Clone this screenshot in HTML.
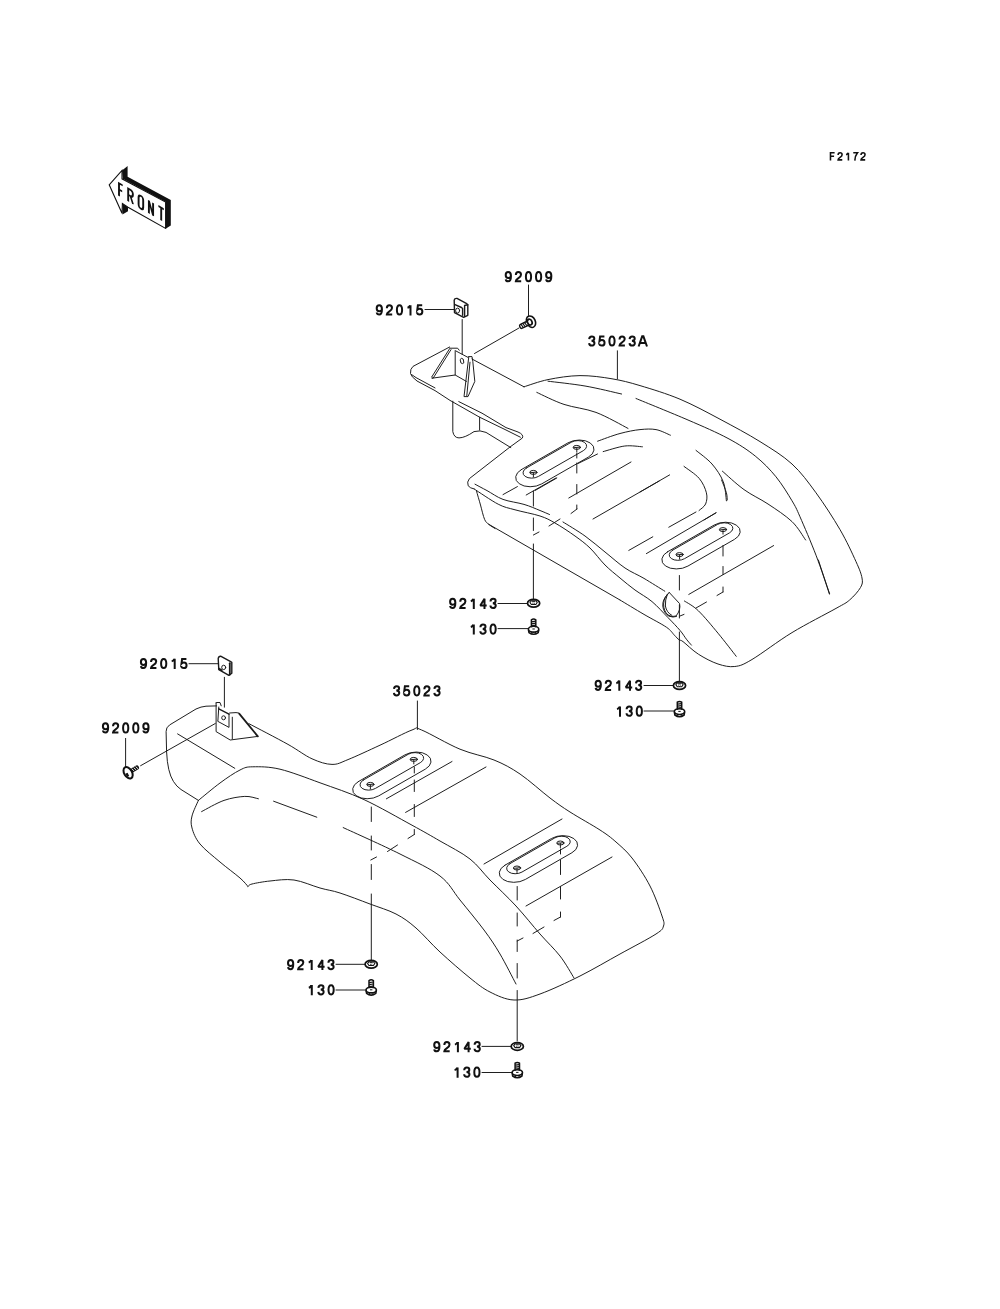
<!DOCTYPE html>
<html><head><meta charset="utf-8">
<style>
html,body{margin:0;padding:0;background:#fff;width:1000px;height:1309px;overflow:hidden}
svg{display:block}
.t{font-family:"Liberation Sans",sans-serif;font-size:14.4px;letter-spacing:2.3px;fill:#111;stroke:#111;stroke-width:0.5}
.l path,.l rect,.l ellipse,path.l{fill:none;stroke:#1a1a1a;stroke-width:0.98;stroke-linecap:round;stroke-linejoin:round}
.l path.d{stroke-dasharray:7 5}
.l path.th{stroke-width:1.8}
.l path.c{stroke-width:1.4}
</style></head><body>
<svg width="1000" height="1309" viewBox="0 0 1000 1309">
<defs>
<g id="nut" fill="none" stroke="#111">
<ellipse cx="0" cy="0" rx="6.1" ry="3.9" stroke-width="1.7"/>
<path d="M-3.6,-0.8 L-2.2,-2.6 L2.2,-2.6 L3.6,-0.8 L2.2,1.2 L-2.2,1.2Z" stroke-width="1.1"/>
<path d="M-1.5,-1.6 L1.5,-1.6 M-1,0.2 L0,0.9 L1,0.2" stroke-width="1"/>
</g>
<g id="bolt" fill="none" stroke="#111">
<path d="M-2.2,-2.5 L-2.2,-10 Q0,-11.6 2.2,-10 L2.2,-2.5" stroke-width="1.5"/>
<path d="M-2,-8 L2,-8.6 M-2,-6 L2,-6.6 M-2,-4 L2,-4.6" stroke-width="1.2"/>
<ellipse cx="0" cy="-0.6" rx="5.2" ry="2.9" stroke-width="1.6"/>
<path d="M-5.1,0 L-4.6,2.8 Q0,6.2 4.6,2.8 L5.1,0" stroke-width="1.6"/>
<path d="M-2,1.6 L-1.6,4.2 M2,1.6 L1.6,4.2 M-1.2,-0.8 L1.2,-0.8" stroke-width="1"/>
</g>
<g id="screw" fill="none" stroke="#111">
<ellipse cx="0" cy="0" rx="3.9" ry="6.2" stroke-width="2" fill="#fff"/>
<path d="M-1.6,-0.5 L-1.8,3.2" stroke-width="2.4"/>
<rect x="3.2" y="-2.2" width="9" height="4.4" rx="1.6" fill="#111" stroke="none"/>
<path d="M5.2,-1.6 L6.2,1.6 M7.4,-1.6 L8.4,1.6 M9.6,-1.6 L10.6,1.6" stroke="#fff" stroke-width="0.8"/>
</g>
<g id="screw2" fill="none" stroke="#111">
<ellipse cx="0" cy="0" rx="4.3" ry="6" stroke-width="1.6" fill="#fff"/>
<ellipse cx="1.3" cy="0.2" rx="2.2" ry="3" stroke-width="1.7"/>
<rect x="3.6" y="-2.1" width="8.6" height="4.2" rx="1.5" stroke-width="1.4" fill="#fff"/>
<path d="M5.4,-1.9 L6.2,1.9 M7.4,-1.9 L8.2,1.9 M9.4,-1.9 L10.2,1.9" stroke-width="1.1"/>
</g>
<g id="glyphs" style="display:none"></g>
<g id="g0" fill="none" stroke="#111" stroke-width="2.0"><ellipse cx="3.5" cy="-5.5" rx="2.6" ry="4.6"/></g>
<g id="g1" fill="none" stroke="#111" stroke-width="2.0"><path d="M4.4,0 L4.4,-10.2 M1.4,-7.6 Q3.6,-8.2 4.0,-10.1"/></g>
<g id="g2" fill="none" stroke="#111" stroke-width="2.0"><path d="M0.95,-7.1 C0.95,-9.0 2.0,-10.1 3.5,-10.1 C5.1,-10.1 6.1,-9.1 6.1,-7.5 C6.1,-5.9 5.0,-5.0 3.5,-4.1 C1.9,-3.1 0.9,-2.2 0.9,-0.9 L6.3,-0.9"/></g>
<g id="g3" fill="none" stroke="#111" stroke-width="2.0"><path d="M0.9,-7.4 C1.0,-9.2 2.0,-10.1 3.5,-10.1 C5.0,-10.1 6.0,-9.2 6.0,-7.8 C6.0,-6.5 5.0,-5.7 3.2,-5.7 C5.1,-5.7 6.15,-4.7 6.15,-3.2 C6.15,-1.8 5.0,-0.9 3.5,-0.9 C1.9,-0.9 0.9,-1.8 0.85,-3.4"/></g>
<g id="g4" fill="none" stroke="#111" stroke-width="2.0"><path d="M5.0,0 L5.0,-10.1 L0.8,-3.4 L7.2,-3.4" stroke-linejoin="bevel"/></g>
<g id="g5" fill="none" stroke="#111" stroke-width="2.0"><path d="M6.0,-10.1 L1.7,-10.1 L1.1,-5.5 C1.7,-6.2 2.6,-6.6 3.6,-6.6 C5.2,-6.6 6.15,-5.4 6.15,-3.8 C6.15,-2.0 5.0,-0.9 3.4,-0.9 C1.9,-0.9 0.95,-1.7 0.85,-3.0"/></g>
<g id="gF" fill="none" stroke="#111" stroke-width="2.0"><path d="M1.0,0 L1.0,-10.1 L6.3,-10.1 M1.0,-5.5 L5.6,-5.5"/></g>
<g id="g7" fill="none" stroke="#111" stroke-width="2.0"><path d="M0.8,-10.1 L6.2,-10.1 C4.2,-7.6 3.0,-4.4 2.8,0"/></g>
<g id="g9" fill="none" stroke="#111" stroke-width="2.0"><path d="M6.1,-5.9 C5.7,-4.7 4.7,-4.1 3.5,-4.1 C1.9,-4.1 0.9,-5.2 0.9,-7.1 C0.9,-9.0 2.0,-10.1 3.5,-10.1 C5.2,-10.1 6.15,-8.8 6.15,-6.2 C6.15,-3.0 5.1,-0.9 3.4,-0.9 C2.1,-0.9 1.1,-1.6 0.95,-2.9"/></g>
<g id="gA" fill="none" stroke="#111" stroke-width="2.0"><path d="M-0.2,0 L3.4,-10.2 L4.6,-10.2 L8.2,0 M1.5,-3.6 L6.5,-3.6" stroke-linejoin="miter"/></g></defs>

<g class="l">
<path d="M449.6,347 L413,366.4 Q410,369 410.5,373.5 Q411,376.5 417,381 L435,390.6 L450,400.4 L479.6,417.2 L506,430 L520.4,437.2"/>
<path d="M458.8,401.6 L482,413.2 L506,427.6 L518,432 Q524,434.5 522.4,438 L510,447 L469.4,478.6 Q466.6,482 468.2,485.8 Q470,488.2 474.2,489"/>
<path d="M411.5,374.5 L416,377.6 L435,387.9"/>
<path d="M472,359 L524,386.8"/>
<path d="M524,386.8 C528,385.6 538.7,381.5 548,379.6 C557.3,377.7 569.3,375.7 580,375.6 C590.7,375.5 602,377.1 612,378.8 C622,380.5 628.7,382.2 640,385.6 C651.3,389 666.7,393.6 680,399.2 C693.3,404.8 706.7,412.1 720,419.2 C733.3,426.3 748,434.1 760,441.6 C772,449.1 782.7,455.5 792,464 C801.3,472.5 808,481.9 816,492.8 C824,503.7 833.3,518.1 840,529.6 C846.7,541.1 852.3,553.5 856,561.6 C859.7,569.7 861.2,573.7 862,578 C862.8,582.3 862.6,583.8 860.5,587.5 C858.4,591.2 853.7,596.5 849.6,600 C845.5,603.5 845.6,603 836,608.4 C826.4,613.8 806,624.1 792,632.6 C778,641.1 761.5,653.9 752,659.5 C742.5,665.1 740.5,665.8 734.8,666.5 C729.1,667.2 724.1,666 718,664 C711.9,662 704.2,657.9 698.4,654.2 C692.6,650.5 686.2,644 683,641.6 C679.8,639.2 680.6,641.1 679.2,640 C677.8,638.9 676.5,637.3 674.4,635.2 C672.3,633.1 671.5,630.7 666.4,627.2 C661.3,623.7 651.7,618.9 644,614.4 C636.3,609.9 624,602.4 620,600"/>
<path d="M488.6,524.2 L620,600"/>
<path d="M476.6,491.4 C477.2,493.7 479.2,500.3 480.5,505 C481.8,509.7 483.2,516.2 484.6,519.4 C486,522.6 486.9,522.7 488.6,524.2 C490.3,525.7 493.9,527.8 495,528.5"/>
<path d="M474.2,489 C478.2,491.5 491.4,500.7 498.2,504.2 C505,507.7 508,507.8 515,509.8 C522,511.8 533.3,513.8 540,516 C546.7,518.2 549.2,519.7 555,523 C560.8,526.3 569.2,531.8 575,536 C580.8,540.2 585,543.2 590,548 C595,552.8 600,560 605,565 C610,570 615,573.8 620,578 C625,582.2 629.7,586.1 635,590 C640.3,593.9 646.5,597 652,601.6 C657.5,606.2 663.3,612.8 668,617.6 C672.7,622.4 676.9,626.8 680,630.4 C683.1,634 684.5,636.8 686.4,639.2 C688.3,641.7 690.6,644.1 691.4,645.1"/>
<path d="M475,484.2 C477,485.3 482.3,488.1 487,490.6 C491.7,493.1 496.8,497.1 503,499.4 C509.2,501.7 517.8,502.5 524,504.4 C530.2,506.2 535.8,508.8 540,510.5 C544.2,512.2 547.9,513.8 549.5,514.5"/>
<path d="M563,522 C566.7,524.3 578,531 585,536 C592,541 598.3,546.7 605,552 C611.7,557.3 618.5,563.6 625,568 C631.5,572.4 637.4,574.5 644,578.4 C650.6,582.3 661.3,589.1 664.8,591.2"/>
<path d="M452.8,401.2 L452.8,431.6 Q454,437.8 459,437.9 Q465,437.8 474,431.6 Q480,429.8 486,432.4 L510.8,447.6"/>
<path d="M479.6,417.2 L479.6,430"/>
<path d="M449.4,349 L431.6,377.2 L433,378.4 L451,349.6"/>
<path d="M432,378.2 L455.2,375 L466.4,381.4"/>
<path d="M449.6,348.2 L457.6,348.2 L459.2,350.2"/>
<path d="M456,351 L468,357.4"/>
<path d="M455.2,350.6 L455.2,375"/>
<path d="M462,361 m-1.6,0 a1.6,2.2 -20 1 0 3.2,0 a1.6,2.2 -20 1 0 -3.2,0"/>
<path d="M468.8,356.6 L464,396.6 L468,396.6 L474.8,381.4 L472.8,361.4 L472,356.6 L468.8,356.6"/>
<path d="M470,362.2 L466.8,395.8"/>
<path d="M548,381.2 C554.2,382 572.7,383.9 585,386 C597.3,388.1 615.5,392.7 621.6,394"/>
<path d="M636,398.5 C644.7,402.1 672.7,413.4 688,420 C703.3,426.6 716.8,432.4 728,438.4 C739.2,444.4 747.2,449.6 755.2,456 C763.2,462.4 769.9,469.3 776,476.8 C782.1,484.3 788,494.1 792,500.8 C796,507.5 796,507.7 800,516.8 C804,525.9 811.1,542.4 816,555.2 C820.9,568 827.3,587.2 829.6,593.6"/>
<path d="M536.8,392.4 C541.3,394.4 554.1,401.1 564,404.4 C573.9,407.7 585.3,408.4 596,412.4 C606.7,416.4 622.7,425.7 628,428.4"/>
<path d="M597.6,441.2 C601.3,439.9 612.9,435.4 620,433.5 C627.1,431.6 634,430.2 640,429.6 C646,429 650.9,428.7 656,429.6 C661.1,430.5 668,434.3 670.4,435.2"/>
<path d="M603.2,451.6 C606.8,450.7 618.3,446.8 624.8,446 C631.3,445.2 639.5,446.7 642.4,446.8"/>
<path d="M696,450.4 C698.7,452.7 707.5,458.8 712,464 C716.5,469.2 720.8,475.5 723.2,481.6 C725.6,487.7 725.9,497.6 726.4,500.8"/>
<path d="M684,466.4 C686.5,468.4 695.5,474 699.2,478.4 C702.9,482.8 705.3,488.5 706.4,492.8 C707.5,497.1 706.8,501.1 705.6,504 C704.4,506.9 700.1,509.4 699,510.5"/>
<path d="M696,512 L668.8,527.2"/>
<path d="M722.4,471.2 C726,474.3 736.4,484.1 744,489.6 C751.6,495.1 760,498.7 768,504 C776,509.3 785.7,515.6 792,521.6 C798.3,527.6 803.3,536.9 805.6,540"/>
<path d="M721.6,480 C722.4,482.1 725.5,489.5 726.4,492.8 C727.3,496.1 727.1,498.8 727.2,500"/>
<path d="M593,519 L659.2,481"/>
<path d="M640,492 L669.6,474.9"/>
<path d="M704,520 L716,512.8"/>
<path d="M628.8,550.4 L652.8,536.8"/>
<path d="M646.4,553.6 L716,512.8"/>
<path d="M688.8,594.4 L773.6,545.6"/>
<path d="M503,494.6 L517.4,486.6"/>
<path d="M526.2,495 L556,478"/>
<path d="M568.8,498 L631,462"/>
<path d="M578,463.5 L597.5,454"/>
<path d="M818.4,560 L829.4,594.1"/>
<path d="M684.4,601 C686.7,602.6 692.8,605.4 698.4,610.8 C704,616.2 711.7,625.6 718,633.2 C724.3,640.8 733.2,652.4 736.2,656.3"/>
<path d="M530.2,472.7 L536.6,472.1"/>
<path d="M533.4,472.9 L533.4,476.9"/>
<path d="M573.6,447.7 L580,447.1"/>
<path d="M576.8,447.9 L576.8,451.9"/>
<path d="M535.2,490.4 L556.8,478"/>
<path d="M676.4,554.9 L682.8,554.3"/>
<path d="M679.6,555.1 L679.6,559.1"/>
<path d="M719.8,529.9 L726.2,529.3"/>
<path d="M723,530.1 L723,534.1"/>
<path d="M533.4,491 L533.4,506"/>
<path d="M533.4,518 L533.4,530.5"/>
<path d="M533.4,544 L533.4,599"/>
<path d="M533.4,535 L539,532"/>
<path d="M576.8,453 L576.8,458"/>
<path d="M576.8,463 L576.8,473"/>
<path d="M576.8,484.5 L576.8,494"/>
<path d="M576.8,505 L576.8,509"/>
<path d="M577,509 L571,513.5"/>
<path d="M560,519 L549,526"/>
<path d="M679.4,575.5 L679.4,590"/>
<path d="M679.4,605 L679.4,618"/>
<path d="M679.4,632 L679.4,681"/>
<path d="M723,545.5 L723,556"/>
<path d="M723,566.5 L723,574.5"/>
<path d="M723,587 L723,592"/>
<path d="M723,592 L717,595.5"/>
<path d="M706.5,602 L696,608"/>
<path d="M669.2,592.4 L679.6,603.6 Q681,610 676,616 Q672,617.5 668,615 Q663.5,611 663.6,604 Q664,597 669.2,592.4"/>
<path d="M668.2,593.8 Q662.3,599 662.8,606 Q663.5,613 669,616.2 Q673,617.8 676.5,616.5"/>
<path d="M667.3,594.5 Q665,600 665.4,606 Q666.5,612.5 672,615.5"/>
<path d="M680,616 L684,614.4"/>
<path class="c" d="M454.2,300.2 Q454.5,298.2 457,298.4 L466.7,303.6 L467.8,304.8 L467.8,315.3 L463.6,317.4 L454.5,312.7 Z"/>
<path class="c" d="M464.6,305.5 L467.8,304.8 M464.6,305.5 L464.6,316.6"/>
<path class="c" d="M455,304.6 L461.5,307.5 L462.6,308.5 L462.6,315.3"/>
<path d="M425,309.5 L454,309.5"/>
<path d="M462.2,319.5 L462.2,354.2"/>
<path d="M528.5,285 L528.5,315.5"/>
<path d="M519,328 L474.5,353.5"/>
<path d="M617.4,350.8 L617.4,378.8"/>
<path d="M498,603.5 L527,603.5"/>
<path d="M498,628.6 L528,628.6"/>
<path d="M644,685.5 L673,685.5"/>
<path d="M644,711 L674,711"/>
<path d="M216.6,705.9 L206,706.2 Q201,706.6 196,709 L169.5,725 Q166,727.5 166.1,731.5 L166.6,752 Q167.5,772 173.4,781.4 Q176.5,786.5 181,789.5 L198.4,800.4"/>
<path d="M198.4,800.4 C202,797.5 213.1,788.1 220,783 C226.9,777.9 234.5,772.7 240,770 C245.5,767.3 246.1,766.9 252.8,766.8 C259.5,766.7 268.8,766.5 280,769.2 C291.2,771.9 306,777.7 320,782.8 C334,787.9 348.7,792.5 364,799.6 C379.3,806.7 399.3,818.3 412,825.2 C424.7,832.1 430.3,835.4 440,841 C449.7,846.6 461.7,852.5 470,859 C478.3,865.5 482.3,872.2 490,880 C497.7,887.8 507.7,897 516,906 C524.3,915 532.7,925.7 540,934 C547.3,942.3 554.3,948.7 560,956 C565.7,963.3 571.7,974.3 574,978"/>
<path d="M248.8,723.6 C255.3,727.1 277.5,738.5 288,744.4 C298.5,750.3 304.7,755.5 312,758.8 C319.3,762.1 326,764.3 332,764.4 C338,764.5 340,762.8 348,759.6 C356,756.4 369.3,750.1 380,745.2 C390.7,740.3 405.1,732.5 412,730 C418.9,727.5 413.6,726.8 421.6,730 C429.6,733.2 447.9,744.2 460,749.2 C472.1,754.2 484,755.9 494,760 C504,764.1 510.7,767.7 520,774 C529.3,780.3 541.7,791.7 550,798 C558.3,804.3 561.7,806.7 570,812 C578.3,817.3 592.3,825 600,830 C607.7,835 610.7,837.3 616,842 C621.3,846.7 626.3,850.7 632,858 C637.7,865.3 645,876.3 650,886 C655,895.7 659.8,909.3 662,916 C664.2,922.7 664.5,923 663.5,926 C662.5,929 663.2,929.3 656,934 C648.8,938.7 632.7,947 620,954 C607.3,961 593.3,969.3 580,976 C566.7,982.7 551,990 540,994 C529,998 522.3,1000.3 514,1000 C505.7,999.7 497.3,995.7 490,992 C482.7,988.3 478.3,984.7 470,978 C461.7,971.3 449,960.3 440,952 C431,943.7 423.3,934.3 416,928 C408.7,921.7 403.7,918 396,914 C388.3,910 379.3,907.5 370,904 C360.7,900.5 348.3,895.7 340,893 C331.7,890.3 327.7,890.2 320,888 C312.3,885.8 302.3,881.2 294,880 C285.7,878.8 277,880.3 270,881 C263,881.7 255.7,883.1 252,884 C248.3,884.9 248.7,886.1 248,886.5"/>
<path d="M248,886.5 C246.7,885.1 244.7,882.1 240,878 C235.3,873.9 226.7,867.7 220,862 C213.3,856.3 204.7,849.7 200,844 C195.3,838.3 193.3,832.7 192,828 C190.7,823.3 190.9,820.6 192,816 C193.1,811.4 197.3,803 198.4,800.4"/>
<path d="M201.6,811.6 C205.3,809.7 216.8,802.9 224,800.4 C231.2,797.9 239.1,796.7 244.8,796.4 C250.5,796.1 256.1,798.4 258.4,798.8"/>
<path d="M273.6,801.2 L316.8,817.2"/>
<path d="M177.6,733.9 L234.8,768.3"/>
<path d="M343.2,827.6 C352.7,832 383.9,845.9 400,854 C416.1,862.1 430,868.3 440,876 C450,883.7 452.7,891 460,900 C467.3,909 477.3,921 484,930 C490.7,939 494.7,945 500,954 C505.3,963 513.3,979 516,984"/>
<path d="M386.4,798.8 L452,761.5"/>
<path d="M405.6,812.4 L486,767"/>
<path d="M484,864 L562,819"/>
<path d="M526,906 L612,857"/>
<path d="M367.2,784.7 L373.6,784.1"/>
<path d="M370.4,784.9 L370.4,788.9"/>
<path d="M410.6,759.7 L417,759.1"/>
<path d="M413.8,759.9 L413.8,763.9"/>
<path d="M513.8,868.3 L520.2,867.7"/>
<path d="M517,868.5 L517,872.5"/>
<path d="M557.2,843.3 L563.6,842.7"/>
<path d="M560.4,843.5 L560.4,847.5"/>
<path d="M371.3,807 L371.3,821.5"/>
<path d="M371.3,836 L371.3,850"/>
<path d="M371.3,864.5 L371.3,879.5"/>
<path d="M371.3,894 L371.3,960"/>
<path d="M370.8,860 L376.5,857"/>
<path d="M414.3,767 L414.3,773"/>
<path d="M414.3,780 L414.3,791.5"/>
<path d="M414.3,804.5 L414.3,816.5"/>
<path d="M414.3,829.5 L414.3,834.5"/>
<path d="M414.3,834.5 L408,838.5"/>
<path d="M397.5,845 L387.5,851.5"/>
<path d="M517.2,886.5 L517.2,900"/>
<path d="M517.2,913 L517.2,926"/>
<path d="M517.2,940 L517.2,951.5"/>
<path d="M517.2,963.5 L517.2,978"/>
<path d="M517.2,990.5 L517.2,1041"/>
<path d="M517.2,941 L523,938"/>
<path d="M560.5,849 L560.5,854"/>
<path d="M560.5,860 L560.5,874.5"/>
<path d="M560.5,886.5 L560.5,899"/>
<path d="M560.5,912 L560.5,917"/>
<path d="M560.5,917 L554,920.5"/>
<path d="M544,927 L533,933.5"/>
<path d="M216.1,702.8 L216.1,731.6 L230.2,740 L257.8,736.4"/>
<path d="M216.1,702.8 L217,702.5 L220,702.5 L221.2,705.8"/>
<path d="M218.8,707 L217.9,720.8"/>
<path class="c" d="M218.8,708.8 L229,714.2"/>
<path d="M229,714.2 L229,727.4 L217.9,721.4"/>
<path d="M229.6,713 L236,712.6 L238.6,713"/>
<path class="th" d="M239.2,713.6 L257.8,736.4"/>
<path d="M232.3,717.2 L232.3,738.8"/>
<path class="c" d="M218.2,658.5 Q218.5,656.3 220.6,656.2 L230.2,661.4 L231.8,662.4 L231.8,673.3 L228.9,675.4 L218.8,669.7 Z"/>
<path class="th" d="M229.8,663.2 L229.8,674.6"/>
<path class="th" d="M218.8,668.6 L221.8,670.2"/>
<path d="M189,663.7 L218.6,663.7"/>
<path d="M224.4,677.3 L224.4,707.2"/>
<path d="M125.6,738.4 L125.6,767.7"/>
<path d="M140.6,765.7 L215.3,723.5"/>
<path d="M417.4,701 L417.4,729.5"/>
<path d="M336,964.3 L365,964.3"/>
<path d="M336,990 L366,990"/>
<path d="M482,1046.4 L511,1046.4"/>
<path d="M482,1072.5 L512,1072.5"/>
<g transform="translate(533.4,472.4) rotate(0) matrix(12.2,-7,10.23,7.11,21.4,-9.01)"><rect vector-effect="non-scaling-stroke" x="-2.91" y="-1" width="5.82" height="2" rx="1" ry="1"/><rect vector-effect="non-scaling-stroke" x="-2.17" y="-0.9" width="4.86" height="1.18" rx="0.59" ry="0.59"/></g>
<ellipse cx="533.4" cy="472.4" rx="3.6" ry="2"/>
<ellipse cx="576.8" cy="447.4" rx="3.6" ry="2"/>
<g transform="translate(679.6,554.6) rotate(0) matrix(12.2,-7,10.23,7.11,21.4,-9.01)"><rect vector-effect="non-scaling-stroke" x="-2.91" y="-1" width="5.82" height="2" rx="1" ry="1"/><rect vector-effect="non-scaling-stroke" x="-2.17" y="-0.9" width="4.86" height="1.18" rx="0.59" ry="0.59"/></g>
<ellipse cx="679.6" cy="554.6" rx="3.6" ry="2"/>
<ellipse cx="723" cy="529.6" rx="3.6" ry="2"/>
<ellipse cx="457.6" cy="310.6" rx="2" ry="2.5" stroke-width="1.3"/>
<use href="#screw2" transform="translate(531,321.7) rotate(154.5)"/>
<g transform="translate(370.4,784.4) rotate(0) matrix(12.2,-7,10.23,7.11,21.4,-9.01)"><rect vector-effect="non-scaling-stroke" x="-2.91" y="-1" width="5.82" height="2" rx="1" ry="1"/><rect vector-effect="non-scaling-stroke" x="-2.17" y="-0.9" width="4.86" height="1.18" rx="0.59" ry="0.59"/></g>
<ellipse cx="370.4" cy="784.4" rx="3.6" ry="2"/>
<ellipse cx="413.8" cy="759.4" rx="3.6" ry="2"/>
<g transform="translate(517,868) rotate(0) matrix(12.2,-7,10.23,7.11,21.4,-9.01)"><rect vector-effect="non-scaling-stroke" x="-2.91" y="-1" width="5.82" height="2" rx="1" ry="1"/><rect vector-effect="non-scaling-stroke" x="-2.17" y="-0.9" width="4.86" height="1.18" rx="0.59" ry="0.59"/></g>
<ellipse cx="517" cy="868" rx="3.6" ry="2"/>
<ellipse cx="560.4" cy="843" rx="3.6" ry="2"/>
<ellipse cx="223.6" cy="717.8" rx="1.9" ry="2" stroke-width="1.4"/>
<ellipse cx="223.7" cy="667.4" rx="2" ry="2.2" stroke-width="1.3"/>
<use href="#screw" transform="translate(128.1,772.8) rotate(-30.6)"/>
<g transform="translate(829.7,160.6) scale(0.780)"><use href="#gF" x="0.0"/><use href="#g2" x="9.8"/><use href="#g1" x="19.6"/><use href="#g7" x="29.4"/><use href="#g2" x="39.2"/></g>
</g>
<use href="#nut" x="533.6" y="603.3"/>
<use href="#bolt" x="533.6" y="629.8"/>
<use href="#nut" x="679.5" y="685.5"/>
<use href="#bolt" x="679.5" y="712.2"/>
<use href="#nut" x="371.2" y="964.3"/>
<use href="#bolt" x="371.2" y="990.6"/>
<use href="#nut" x="517.3" y="1046.4"/>
<use href="#bolt" x="517.3" y="1073.2"/>
<g transform="translate(375.8,315.4) scale(1.000)"><use href="#g9" x="0.0"/><use href="#g2" x="10.1"/><use href="#g0" x="20.2"/><use href="#g1" x="30.3"/><use href="#g5" x="40.4"/></g>
<g transform="translate(504.8,282.2) scale(1.000)"><use href="#g9" x="0.0"/><use href="#g2" x="10.1"/><use href="#g0" x="20.2"/><use href="#g0" x="30.3"/><use href="#g9" x="40.4"/></g>
<g transform="translate(588.3,346.5) scale(1.000)"><use href="#g3" x="0.0"/><use href="#g5" x="10.1"/><use href="#g0" x="20.2"/><use href="#g2" x="30.3"/><use href="#g3" x="40.4"/><use href="#gA" x="50.5"/></g>
<g transform="translate(449.2,608.9) scale(1.000)"><use href="#g9" x="0.0"/><use href="#g2" x="10.1"/><use href="#g1" x="20.2"/><use href="#g4" x="30.3"/><use href="#g3" x="40.4"/></g>
<g transform="translate(469.4,634.6) scale(1.000)"><use href="#g1" x="0.0"/><use href="#g3" x="10.1"/><use href="#g0" x="20.2"/></g>
<g transform="translate(594.7,690.8) scale(1.000)"><use href="#g9" x="0.0"/><use href="#g2" x="10.1"/><use href="#g1" x="20.2"/><use href="#g4" x="30.3"/><use href="#g3" x="40.4"/></g>
<g transform="translate(615.6,716.7) scale(1.000)"><use href="#g1" x="0.0"/><use href="#g3" x="10.1"/><use href="#g0" x="20.2"/></g>
<g transform="translate(140.0,669.0) scale(1.000)"><use href="#g9" x="0.0"/><use href="#g2" x="10.1"/><use href="#g0" x="20.2"/><use href="#g1" x="30.3"/><use href="#g5" x="40.4"/></g>
<g transform="translate(102.0,733.4) scale(1.000)"><use href="#g9" x="0.0"/><use href="#g2" x="10.1"/><use href="#g0" x="20.2"/><use href="#g0" x="30.3"/><use href="#g9" x="40.4"/></g>
<g transform="translate(393.1,696.3) scale(1.000)"><use href="#g3" x="0.0"/><use href="#g5" x="10.1"/><use href="#g0" x="20.2"/><use href="#g2" x="30.3"/><use href="#g3" x="40.4"/></g>
<g transform="translate(287.1,970.1) scale(1.000)"><use href="#g9" x="0.0"/><use href="#g2" x="10.1"/><use href="#g1" x="20.2"/><use href="#g4" x="30.3"/><use href="#g3" x="40.4"/></g>
<g transform="translate(307.4,995.3) scale(1.000)"><use href="#g1" x="0.0"/><use href="#g3" x="10.1"/><use href="#g0" x="20.2"/></g>
<g transform="translate(433.3,1052.2) scale(1.000)"><use href="#g9" x="0.0"/><use href="#g2" x="10.1"/><use href="#g1" x="20.2"/><use href="#g4" x="30.3"/><use href="#g3" x="40.4"/></g>
<g transform="translate(453.2,1077.7) scale(1.000)"><use href="#g1" x="0.0"/><use href="#g3" x="10.1"/><use href="#g0" x="20.2"/></g>
<g>
<path d="M122,170.4 L127.6,166 L127.6,176.8 L170.8,200 L170.8,225.6 L165.6,228.8 L165.6,202 L122.8,178.8 Z" fill="#111"/>
<path d="M122.4,203.6 L128,207.2 L128,211.2 L122.4,214.4 Z" fill="#111"/>
<path d="M109.2,184.8 L122,170.4 L122,178.8 L165.6,202 L165.6,228.4 L128,207.2 L122.4,203.6 L122,213.2 Z" fill="#fff" stroke="#111" stroke-width="1.1" stroke-linejoin="miter"/>
<g transform="translate(119,183.2) matrix(1,0.58,0,1,0,0)" fill="none" stroke="#111" stroke-width="1.9">
<path d="M0,12.8 L0,0 L3.7,0 M0,6.3 L3.2,6.3"/>
<path d="M9.2,12.8 L9.2,0 L11.6,0 Q13.9,0 13.9,3.1 Q13.9,6.2 11.6,6.2 L9.2,6.2 M11.4,6.2 L14,12.8"/>
<path d="M19.6,3 Q19.6,0 21.9,0 Q24.2,0 24.2,3 L24.2,9.8 Q24.2,12.8 21.9,12.8 Q19.6,12.8 19.6,9.8 Z"/>
<path d="M29.9,12.8 L29.9,0 L34.1,12.8 L34.1,0"/>
<path d="M39.4,0 L44.8,0 M42.2,0 L42.2,12.8"/>
</g>
</g>

</svg>
</body></html>
